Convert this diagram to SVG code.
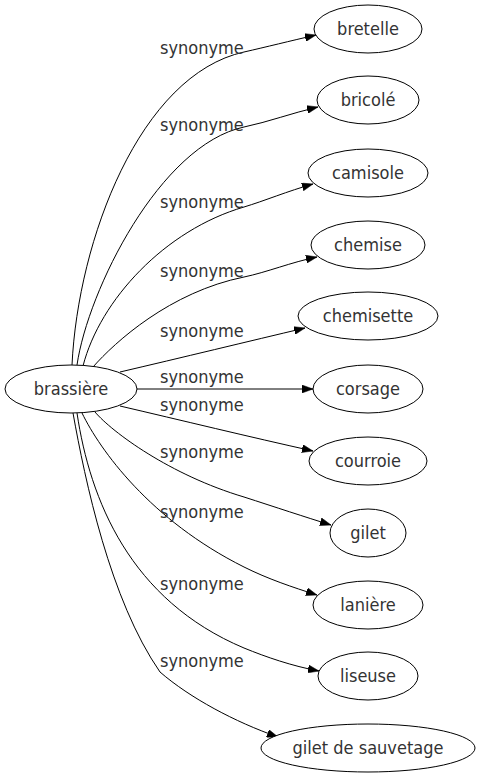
<svg xmlns="http://www.w3.org/2000/svg" width="480" height="779" viewBox="0 0 480 779">
<style>
  text { font-family: "DejaVu Sans Condensed", "DejaVu Sans", sans-serif; font-stretch: condensed; font-size: 18px; fill: #333; }
  .node ellipse { fill: #fff; stroke: #000; stroke-width: 1; }
  .node text { text-anchor: middle; }
  .edge path { fill: none; stroke: #000; stroke-width: 1; marker-end: url(#arrow); }
</style>
<defs>
  <marker id="arrow" viewBox="0 0 11 8" refX="11" refY="4" markerWidth="11" markerHeight="8" markerUnits="userSpaceOnUse" orient="auto">
    <path d="M0,0 L11,4 L0,8 z" fill="#000" stroke="#000" stroke-width="0.5"/>
  </marker>
</defs>
<rect width="480" height="779" fill="#fff"/>
<g id="edges" class="edge">
  <path d="M72,365 C78,240 140,75 244,52 C266,47 290,41 316,35"/>
  <path d="M77,365 C88,290 160,145 244,127 C268,122 292,113 318,107"/>
  <path d="M83,366 C100,300 165,230 244,207 C264,201 288,191 313,184"/>
  <path d="M93,367 C115,342 170,292 244,277 C266,272.5 292,262 317,257"/>
  <path d="M120,372 C180,358 250,341 305,328"/>
  <path d="M137,389 L313,389"/>
  <path d="M120,406 C180,420 250,437 313,451"/>
  <path d="M95,412 C112,432 170,475 244,497 C275,507 305,517 331,525"/>
  <path d="M82,413 C100,450 150,520 244,567 C268,579 292,587 317,595"/>
  <path d="M77,413 C90,500 130,600 244,648 C266,657 292,666 319,671"/>
  <path d="M73,413 C85,480 110,600 160,672 C190,698 235,722 278,737"/>
  <text x="160" y="54">synonyme</text>
  <text x="160" y="131">synonyme</text>
  <text x="160" y="208">synonyme</text>
  <text x="160" y="277">synonyme</text>
  <text x="160" y="337">synonyme</text>
  <text x="160" y="383">synonyme</text>
  <text x="160" y="411">synonyme</text>
  <text x="160" y="458">synonyme</text>
  <text x="160" y="518">synonyme</text>
  <text x="160" y="590">synonyme</text>
  <text x="160" y="667">synonyme</text>
</g>
<g id="brassiere" class="node"><ellipse cx="71" cy="389" rx="66" ry="24"/><text x="71" y="395">brassière</text></g>
<g id="bretelle" class="node"><ellipse cx="368" cy="29" rx="54" ry="24"/><text x="368" y="35">bretelle</text></g>
<g id="bricole" class="node"><ellipse cx="368" cy="100" rx="51" ry="24"/><text x="368" y="106">bricolé</text></g>
<g id="camisole" class="node"><ellipse cx="368" cy="173" rx="60" ry="24"/><text x="368" y="179">camisole</text></g>
<g id="chemise" class="node"><ellipse cx="368" cy="245" rx="57" ry="24"/><text x="368" y="251">chemise</text></g>
<g id="chemisette" class="node"><ellipse cx="368" cy="316" rx="70" ry="24"/><text x="368" y="322">chemisette</text></g>
<g id="corsage" class="node"><ellipse cx="368" cy="389" rx="55" ry="24"/><text x="368" y="395">corsage</text></g>
<g id="courroie" class="node"><ellipse cx="368" cy="461" rx="59" ry="24"/><text x="368" y="467">courroie</text></g>
<g id="gilet" class="node"><ellipse cx="368" cy="533" rx="38" ry="24"/><text x="368" y="539">gilet</text></g>
<g id="laniere" class="node"><ellipse cx="368" cy="605" rx="55" ry="24"/><text x="368" y="611">lanière</text></g>
<g id="liseuse" class="node"><ellipse cx="368" cy="676" rx="50" ry="24"/><text x="368" y="682">liseuse</text></g>
<g id="gilet-de-sauvetage" class="node"><ellipse cx="368" cy="748" rx="107" ry="24"/><text x="368" y="754">gilet de sauvetage</text></g>
</svg>
